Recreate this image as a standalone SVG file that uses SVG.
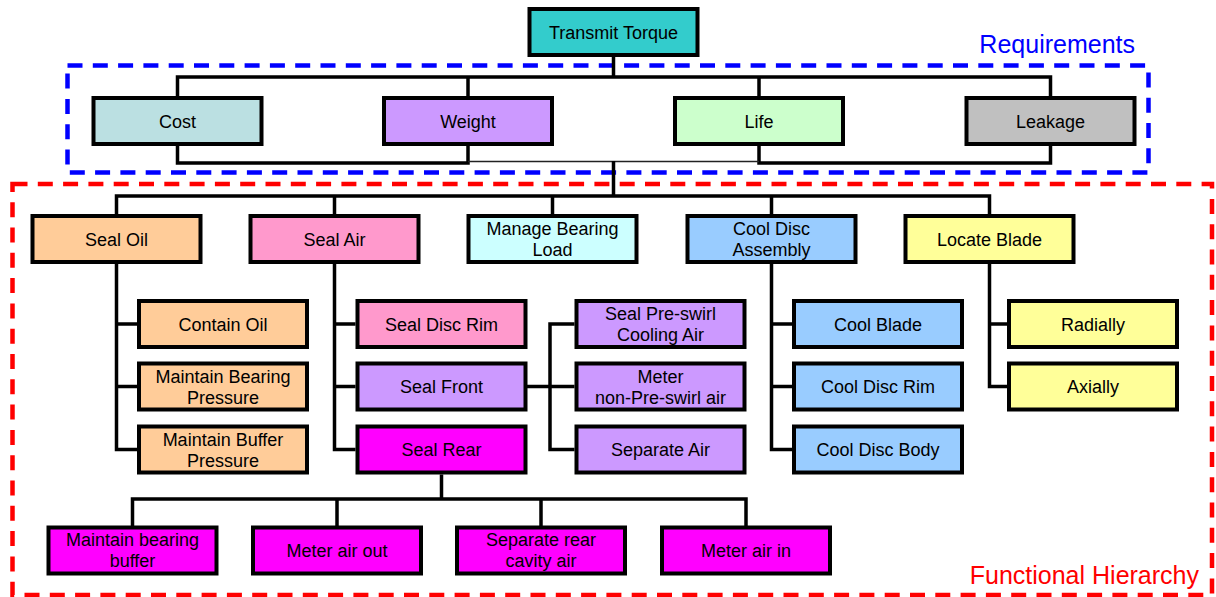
<svg xmlns="http://www.w3.org/2000/svg" width="1216" height="597" viewBox="0 0 1216 597">
<style>
.box{stroke:#000;stroke-width:4}
.t{font-family:"Liberation Sans",Arial,sans-serif;font-size:18px;fill:#000;text-anchor:middle}
.con{fill:none;stroke:#000;stroke-width:3.5}
.thin{fill:none;stroke:#222;stroke-width:1.5}
.req{fill:none;stroke:#0000FF;stroke-width:4.5;stroke-dasharray:15 10.3}
.fun{fill:none;stroke:#FF0000;stroke-width:4.5;stroke-dasharray:15 10.3}
.lbl{font-family:"Liberation Sans",Arial,sans-serif;font-size:25px}
</style>
<rect width="1216" height="597" fill="#fff"/>
<g id="frames">
<rect class="req" x="67.5" y="65.5" width="1081" height="107"/>
<rect class="fun" x="12.5" y="184" width="1199.5" height="411"/>
<text class="lbl" x="1135" y="53" text-anchor="end" fill="#0000FF">Requirements</text>
<text class="lbl" x="1199" y="584" text-anchor="end" fill="#FF0000">Functional Hierarchy</text>
</g>
<g id="connectors">
<path class="con" d="M613.5 57 V77 M177.5 96 V77 H1050.5 V96 M468 77 V96 M759 77 V96"/>
<path class="con" d="M177.5 146 V163 H468 V146 M759 146 V163 H1050.5 V146"/>
<path class="thin" d="M468 161.5 H759"/>
<path class="con" d="M613.5 161 V196 M116.5 214 V196 H989.5 V214 M334.5 196 V214 M552.5 196 V214 M771.5 196 V214"/>
<path class="con" d="M116.5 264 V449.5 H137 M116.5 324 H137 M116.5 386.5 H137"/>
<path class="con" d="M334.5 264 V449.5 H355.5 M334.5 324 H355.5 M334.5 386.5 H355.5"/>
<path class="con" d="M527 386.5 H550 M574.5 324 H550 V449.5 H574.5 M550 386.5 H574.5"/>
<path class="con" d="M771.5 264 V449.5 H792 M771.5 324 H792 M771.5 386.5 H792"/>
<path class="con" d="M989.5 264 V386.5 H1007 M989.5 324 H1007"/>
<path class="con" d="M441.5 474.5 V499 M132.5 526 V499 H746 V526 M337 499 V526 M541 499 V526"/>
</g>
<g id="n-torque"><rect class="box" x="529.5" y="9" width="168" height="46" fill="#33CCCC"/><text class="t" x="613.5" y="38.5">Transmit Torque</text></g>
<g id="n-cost"><rect class="box" x="93.5" y="98" width="168" height="46" fill="#BBE0E2"/><text class="t" x="177.5" y="127.5">Cost</text></g>
<g id="n-weight"><rect class="box" x="384" y="98" width="168" height="46" fill="#CC99FF"/><text class="t" x="468" y="127.5">Weight</text></g>
<g id="n-life"><rect class="box" x="675" y="98" width="168" height="46" fill="#CCFFCC"/><text class="t" x="759" y="127.5">Life</text></g>
<g id="n-leakage"><rect class="box" x="966.5" y="98" width="168" height="46" fill="#C0C0C0"/><text class="t" x="1050.5" y="127.5">Leakage</text></g>

<g id="n-sealoil"><rect class="box" x="32.5" y="216" width="168" height="46" fill="#FFCC99"/><text class="t" x="116.5" y="245.5">Seal Oil</text></g>
<g id="n-sealair"><rect class="box" x="250.5" y="216" width="168" height="46" fill="#FF99CC"/><text class="t" x="334.5" y="245.5">Seal Air</text></g>
<g id="n-bearing"><rect class="box" x="468.5" y="216" width="168" height="46" fill="#CCFFFF"/><text class="t" x="552.5" y="235">Manage Bearing</text><text class="t" x="552.5" y="256">Load</text></g>
<g id="n-cooldisc"><rect class="box" x="687.5" y="216" width="168" height="46" fill="#99CCFF"/><text class="t" x="771.5" y="235">Cool Disc</text><text class="t" x="771.5" y="256">Assembly</text></g>
<g id="n-locate"><rect class="box" x="905.5" y="216" width="168" height="46" fill="#FFFF99"/><text class="t" x="989.5" y="245.5">Locate Blade</text></g>

<g id="n-containoil"><rect class="box" x="139" y="301" width="168" height="46" fill="#FFCC99"/><text class="t" x="223" y="330.5">Contain Oil</text></g>
<g id="n-bearingpressure"><rect class="box" x="139" y="363.5" width="168" height="46" fill="#FFCC99"/><text class="t" x="223" y="382.5">Maintain Bearing</text><text class="t" x="223" y="403.5">Pressure</text></g>
<g id="n-bufferpressure"><rect class="box" x="139" y="426.5" width="168" height="46" fill="#FFCC99"/><text class="t" x="223" y="445.5">Maintain Buffer</text><text class="t" x="223" y="466.5">Pressure</text></g>

<g id="n-discrim"><rect class="box" x="357.5" y="301" width="168" height="46" fill="#FF99CC"/><text class="t" x="441.5" y="330.5">Seal Disc Rim</text></g>
<g id="n-sealfront"><rect class="box" x="357.5" y="363.5" width="168" height="46" fill="#CC99FF"/><text class="t" x="441.5" y="393">Seal Front</text></g>
<g id="n-sealrear"><rect class="box" x="357.5" y="426.5" width="168" height="46" fill="#FF00FF"/><text class="t" x="441.5" y="456">Seal Rear</text></g>

<g id="n-preswirl"><rect class="box" x="576.5" y="301" width="168" height="46" fill="#CC99FF"/><text class="t" x="660.5" y="320">Seal Pre-swirl</text><text class="t" x="660.5" y="341">Cooling Air</text></g>
<g id="n-meter"><rect class="box" x="576.5" y="363.5" width="168" height="46" fill="#CC99FF"/><text class="t" x="660.5" y="382.5">Meter</text><text class="t" x="660.5" y="403.5">non-Pre-swirl air</text></g>
<g id="n-separate"><rect class="box" x="576.5" y="426.5" width="168" height="46" fill="#CC99FF"/><text class="t" x="660.5" y="456">Separate Air</text></g>

<g id="n-coolblade"><rect class="box" x="794" y="301" width="168" height="46" fill="#99CCFF"/><text class="t" x="878" y="330.5">Cool Blade</text></g>
<g id="n-cooldiscrim"><rect class="box" x="794" y="363.5" width="168" height="46" fill="#99CCFF"/><text class="t" x="878" y="393">Cool Disc Rim</text></g>
<g id="n-cooldiscbody"><rect class="box" x="794" y="426.5" width="168" height="46" fill="#99CCFF"/><text class="t" x="878" y="456">Cool Disc Body</text></g>

<g id="n-radially"><rect class="box" x="1009" y="301" width="168" height="46" fill="#FFFF99"/><text class="t" x="1093" y="330.5">Radially</text></g>
<g id="n-axially"><rect class="box" x="1009" y="363.5" width="168" height="46" fill="#FFFF99"/><text class="t" x="1093" y="393">Axially</text></g>

<g id="n-bearingbuffer"><rect class="box" x="48.5" y="527.5" width="168" height="46" fill="#FF00FF"/><text class="t" x="132.5" y="546">Maintain bearing</text><text class="t" x="132.5" y="567">buffer</text></g>
<g id="n-airout"><rect class="box" x="253" y="527.5" width="168" height="46" fill="#FF00FF"/><text class="t" x="337" y="557">Meter air out</text></g>
<g id="n-rearcavity"><rect class="box" x="457" y="527.5" width="168" height="46" fill="#FF00FF"/><text class="t" x="541" y="546">Separate rear</text><text class="t" x="541" y="567">cavity air</text></g>
<g id="n-airin"><rect class="box" x="662" y="527.5" width="168" height="46" fill="#FF00FF"/><text class="t" x="746" y="557">Meter air in</text></g>
</svg>
